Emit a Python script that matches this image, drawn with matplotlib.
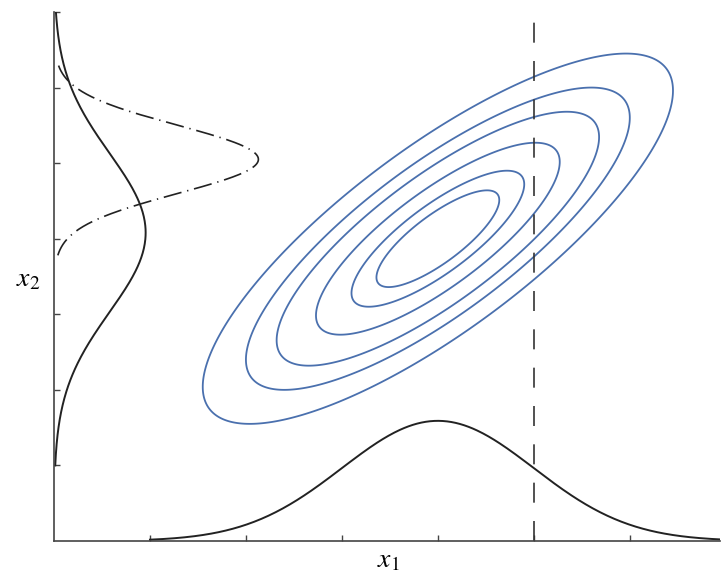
import numpy as np
import matplotlib.pyplot as plt

plt.rcParams['mathtext.fontset'] = 'stix'

# joint distribution
mean_x1, mean_x2 = 4.0, 4.0
sigma_x1, sigma_x2 = 1.0, 1.0
rho = 0.8
contour_radii = [0.64, 0.9, 1.27, 1.68, 2.0, 2.45]

# marginal p(x1) along the bottom
px1_mean, px1_sigma, px1_height, px1_start = 4.0, 1.0, 1.59, 1.0
# marginal p(x2) along the left
px2_mean, px2_sigma, px2_height, px2_start = 4.08, 1.05, 0.955, 1.0
# conditional p(x2 | x1 = 5), dash-dot
cond_at = 5.0
cond_mean, cond_sigma, cond_height, cond_halfspan = 5.05, 0.45, 2.13, 1.27

xticks = [1, 2, 3, 4, 5, 6]
yticks = [1, 2, 3, 4, 5, 6, 7]
xmax, ymax = 6.94, 7.0

blue = '#4a70ae'
ink = '#222222'

fig = plt.figure(figsize=(7.21, 5.73), dpi=100)
ax = fig.add_axes([54 / 721, 32 / 573, 666 / 721, 529 / 573])

# contours of the bivariate gaussian
g1, g2 = np.meshgrid(np.linspace(0, xmax, 600), np.linspace(0, ymax, 600))
z1 = (g1 - mean_x1) / sigma_x1
z2 = (g2 - mean_x2) / sigma_x2
maha = (z1**2 - 2 * rho * z1 * z2 + z2**2) / (1 - rho**2)
ax.contour(g1, g2, maha, levels=[r**2 for r in contour_radii],
           colors=blue, linewidths=1.3)

# p(x1)
xs = np.linspace(px1_start, xmax, 400)
ax.plot(xs, px1_height * np.exp(-0.5 * ((xs - px1_mean) / px1_sigma)**2),
        color=ink, lw=1.4)

# p(x2)
ys = np.linspace(px2_start, ymax, 400)
ax.plot(px2_height * np.exp(-0.5 * ((ys - px2_mean) / px2_sigma)**2), ys,
        color=ink, lw=1.4)

# p(x2 | x1)
yc = np.linspace(cond_mean - cond_halfspan, cond_mean + cond_halfspan, 300)
ax.plot(cond_height * np.exp(-0.5 * ((yc - cond_mean) / cond_sigma)**2), yc,
        color=ink, lw=1.2, dashes=(11, 3.5, 0.8, 3.5))

# slice at x1 = 5
ax.axvline(cond_at, color='#333333', lw=1.2, dashes=(12, 11))

ax.set_xlim(0, xmax)
ax.set_ylim(0, ymax)
ax.set_xticks(xticks)
ax.set_yticks(yticks)
ax.set_xticklabels([])
ax.set_yticklabels([])
ax.tick_params(direction='in', length=4, width=1, color='#444444')
for s in ['top', 'right']:
    ax.spines[s].set_visible(False)
for s in ['left', 'bottom']:
    ax.spines[s].set_color('#444444')
    ax.spines[s].set_linewidth(1.2)

fig.text(388 / 721, 1 - 559 / 573, r'$x_1$', fontsize=20, ha='center', va='center')
fig.text(28 / 721, 1 - 278 / 573, r'$x_2$', fontsize=20, ha='center', va='center')

fig.savefig('out.png', dpi=100)
